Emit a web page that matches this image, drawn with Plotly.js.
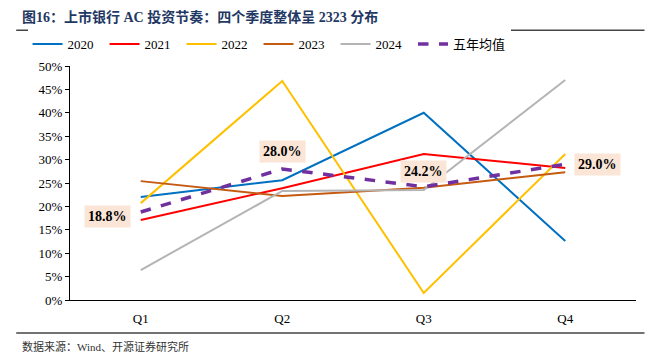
<!DOCTYPE html>
<html><head><meta charset="utf-8">
<script src="https://cdn.plot.ly/plotly-3.0.1.min.js"></script>
<style>html,body{margin:0;padding:0;background:#fff}#c{width:646px;height:364px}</style>
</head><body><div id="c"></div>
<script>
const quarters = ["Q1","Q2","Q3","Q4"];
const v2020 = [22.0, 25.6, 40.0, 12.6];
const v2021 = [17.1, 23.9, 31.2, 28.2];
const v2022 = [20.7, 46.8, 1.5, 31.2];
const v2023 = [25.4, 22.2, 24.0, 27.3];
const v2024 = [6.4, 23.3, 23.5, 47.0];
const avg5 = [18.8, 28.0, 24.2, 29.0];
const avgLabels = ["18.8%","28.0%","24.2%","29.0%"];
const yTicks = [0,5,10,15,20,25,30,35,40,45,50];

const F = "'Liberation Serif', 'Times New Roman', 'Noto Sans CJK SC', serif";
const mk = (name, y, color, dash, w, lg) => ({x: quarters, y: y, name: name, type: "scatter", mode: "lines",
  line: {color: color, width: w || 2, dash: dash || "solid"}, legend: lg || "legend"});
const data = [
  mk("2020", v2020, "#0070C0"),
  mk("2021", v2021, "#FF0000"),
  mk("2022", v2022, "#FFC000"),
  mk("2023", v2023, "#C55A11"),
  mk("2024", v2024, "#B4B4B4"),
  mk("五年均值", avg5, "#7030A0", "dash", 3.5, "legend2")
];
const offs = [[-33,-4],[0,17],[0,15],[32,0]];
const annotations = avg5.map((v,i)=>({x: quarters[i], y: v, text: "<b>"+avgLabels[i]+"</b>", showarrow: false,
  xshift: offs[i][0], yshift: offs[i][1], bgcolor: "#FBE5D6", borderpad: 3,
  font: {family: F, size: 14, color: "#000"}}));
annotations.push({xref:"paper", yref:"paper", x:-0.088, y:1.21, xanchor:"left", yanchor:"middle", showarrow:false,
  text:"<b>图16：上市银行 AC 投资节奏：四个季度整体呈 2323 分布</b>", font:{family:F, size:14, color:"#1F3864"}});
annotations.push({xref:"paper", yref:"paper", x:-0.088, y:-0.197, xanchor:"left", yanchor:"middle", showarrow:false,
  text:"数据来源：Wind、开源证券研究所", font:{family:F, size:11, color:"#333"}});

const layout = {
  width: 646, height: 364,
  margin: {l: 70, r: 10, t: 66, b: 64},
  paper_bgcolor: "#fff", plot_bgcolor: "#fff",
  font: {family: F, size: 13, color: "#000"},
  showlegend: true,
  legend: {orientation: "h", x: -0.075, y: 1.094, xanchor: "left", yanchor: "middle",
    entrywidth: 32, entrywidthmode: "pixels", font: {family: F, size: 13}, tracegroupgap: 0},
  legend2: {orientation: "h", x: 0.606, y: 1.094, xanchor: "left", yanchor: "middle",
    font: {family: F, size: 13}},
  xaxis: {type: "category", range: [-0.5, 3.5], showline: true, linecolor: "#000", linewidth: 1,
    ticks: "", showgrid: false, zeroline: false, tickfont: {family: F, size: 13}, ticklabelstandoff: 6},
  yaxis: {range: [0, 50], tickvals: yTicks, ticktext: yTicks.map(t=>t+"%"), showline: true, linecolor: "#000",
    linewidth: 1, ticks: "outside", ticklen: 4, tickcolor: "#000", showgrid: false, zeroline: false,
    tickfont: {family: F, size: 13}},
  annotations: annotations,
  shapes: [
    {type:"line", xref:"paper", yref:"paper", x0:-0.095, x1:1.015, y0:1.153, y1:1.153, line:{color:"#444", width:1.5}},
    {type:"line", xref:"paper", yref:"paper", x0:-0.095, x1:1.015, y0:-0.141, y1:-0.141, line:{color:"#444", width:1.5}}
  ]
};
Plotly.newPlot("c", data, layout, {displayModeBar: false, staticPlot: true});
</script></body></html>
